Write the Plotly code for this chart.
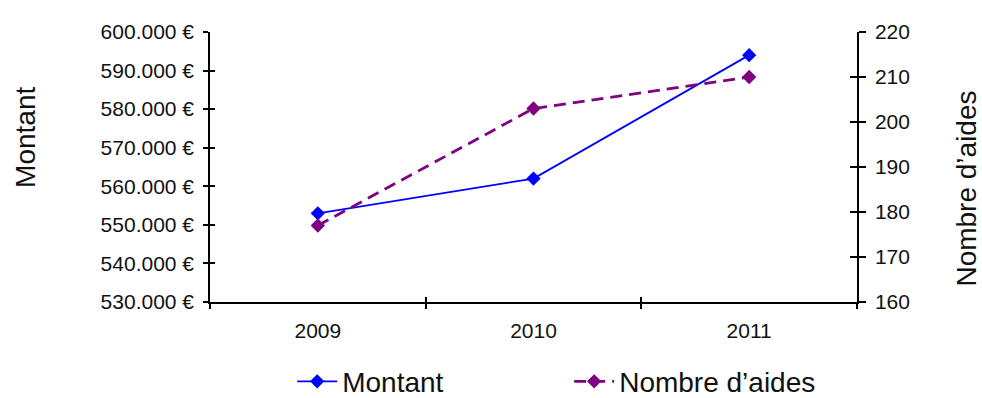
import plotly.graph_objects as go

# Yearly figures
years = ["2009", "2010", "2011"]
montant = [553000, 562000, 594000]        # amount in euros (left axis)
nombre_aides = [177, 203, 210]            # number of grants (right axis)

montant_range = [530000, 600000]
montant_ticks = list(range(530000, 600001, 10000))
montant_labels = [f"{v:,}".replace(",", ".") + " \u20ac" for v in montant_ticks]
aides_range = [160, 220]
aides_ticks = list(range(160, 221, 10))

FONT = "Liberation Sans, Arial, sans-serif"
TEXT = "#111111"

fig = go.Figure()

fig.add_trace(go.Scatter(
    x=years, y=montant, name="Montant", mode="lines+markers",
    line=dict(color="#0000ff", width=1.8),
    marker=dict(symbol="diamond", size=11, color="#0000ff"),
    yaxis="y", xaxis="x",
))
fig.add_trace(go.Scatter(
    x=years, y=nombre_aides, name="Nombre d\u2019aides", mode="lines+markers",
    line=dict(color="#800080", width=2.8, dash="12px,7px"),
    marker=dict(symbol="diamond", size=11, color="#800080"),
    yaxis="y2", xaxis="x",
))
# invisible helpers so the inner-tick overlay axes get drawn
fig.add_trace(go.Scatter(x=years, y=[None] * len(years), xaxis="x2", yaxis="y3",
                         showlegend=False, hoverinfo="skip", mode="markers"))
fig.add_trace(go.Scatter(x=years, y=[None] * len(years), xaxis="x2", yaxis="y4",
                         showlegend=False, hoverinfo="skip", mode="markers"))

axis_line = dict(showline=True, linecolor="#000000", linewidth=1.5,
                 showgrid=False, zeroline=False)
tick_font = dict(family=FONT, size=21, color=TEXT)

fig.update_layout(
    width=982, height=398,
    margin=dict(l=210, r=125, t=32, b=96, autoexpand=False),
    paper_bgcolor="#ffffff", plot_bgcolor="#ffffff",
    font=dict(family=FONT, color=TEXT),
    xaxis=dict(
        type="category", range=[-0.5, len(years) - 0.5],
        tickson="boundaries", ticks="outside", ticklen=5, tickwidth=1.5,
        tickcolor="#000000", tickfont=tick_font, ticklabelstandoff=9,
        automargin=False, **axis_line,
    ),
    xaxis2=dict(
        type="category", range=[-0.5, len(years) - 0.5], overlaying="x",
        anchor="y", side="bottom", tickson="boundaries", ticks="inside",
        ticklen=5, tickwidth=1.5, tickcolor="#000000",
        showticklabels=False, showline=False, showgrid=False, zeroline=False,
    ),
    yaxis=dict(
        range=montant_range, tickmode="array", tickvals=montant_ticks,
        ticktext=montant_labels, ticks="outside", ticklen=5, tickwidth=1.5,
        tickcolor="#000000", tickfont=tick_font, ticklabelstandoff=5,
        automargin=False, **axis_line,
    ),
    yaxis2=dict(
        range=aides_range, tickmode="array", tickvals=aides_ticks,
        overlaying="y", side="right", anchor="x", ticks="outside", ticklen=7,
        tickwidth=1.5, tickcolor="#000000", tickfont=tick_font,
        ticklabelstandoff=5, automargin=False, **axis_line,
    ),
    yaxis3=dict(
        range=montant_range, tickvals=montant_ticks, overlaying="y", side="left",
        anchor="x", ticks="inside", ticklen=5, tickwidth=1.5, tickcolor="#000000",
        showticklabels=False, showline=False, showgrid=False, zeroline=False,
    ),
    yaxis4=dict(
        range=aides_range, tickvals=aides_ticks, overlaying="y", side="right",
        anchor="x", ticks="inside", ticklen=7, tickwidth=1.5, tickcolor="#000000",
        showticklabels=False, showline=False, showgrid=False, zeroline=False,
    ),
    legend=dict(
        orientation="h", x=0.127, y=-0.295, xanchor="left", yanchor="middle",
        font=dict(family=FONT, size=28, color=TEXT),
        bgcolor="rgba(0,0,0,0)", itemwidth=40, entrywidth=222,
        tracegroupgap=0,
    ),
    showlegend=True,
    annotations=[
        dict(text="Montant", textangle=-90, xref="paper", yref="paper",
             x=-0.285, y=0.61, xanchor="center", yanchor="middle",
             showarrow=False, font=dict(family=FONT, size=28, color=TEXT)),
        dict(text="Nombre d\u2019aides", textangle=-90, xref="paper", yref="paper",
             x=1.17, y=0.42, xanchor="center", yanchor="middle",
             showarrow=False, font=dict(family=FONT, size=28, color=TEXT)),
    ],
)

fig.write_html("out.html")
